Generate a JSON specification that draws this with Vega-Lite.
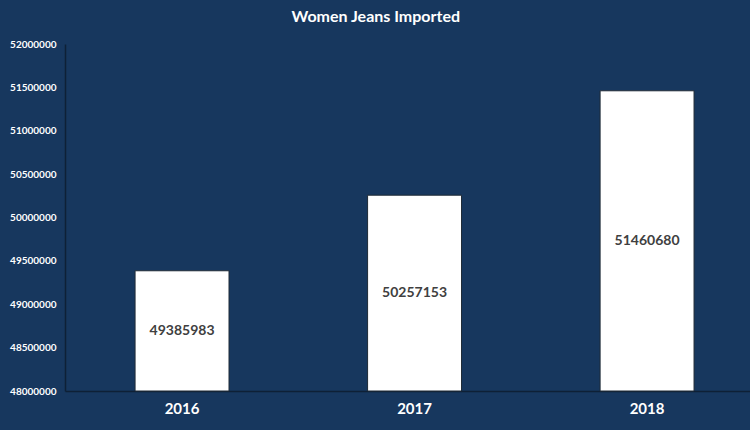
{
  "$schema": "https://vega.github.io/schema/vega-lite/v6.json",
  "autosize": {"type": "none"},
  "width": 685,
  "height": 347,
  "padding": {"left": 65, "top": 44, "right": 0, "bottom": 39},
  "background": "#17375E",
  "config": {
    "view": {"stroke": null},
    "font": "Lato",
    "title": {"color": "#FFFFFF", "fontSize": 16, "fontWeight": "bold", "font": "Lato", "anchor": "middle", "frame": "bounds"}
  },
  "title": {"text": "Women Jeans Imported", "offset": 14, "dx": -4},
  "data": {
    "values": [
      {"year": "2016", "value": 49385983},
      {"year": "2017", "value": 50257153},
      {"year": "2018", "value": 51460680}
    ]
  },
  "encoding": {
    "x": {
      "field": "year", "type": "nominal",
      "scale": {"paddingInner": 0.596, "paddingOuter": 0.271, "align": 0.556},
      "axis": {"title": null, "labelAngle": 0, "labelColor": "#FFFFFF", "labelFontSize": 15, "labelFontWeight": "bold", "labelFont": "Lato", "ticks": false, "labelPadding": 10, "domainColor": "#0E2036", "domainWidth": 1.5}
    }
  },
  "layer": [
    {
      "mark": {"type": "bar", "fill": "#FFFFFF", "stroke": "#1F2A36", "strokeWidth": 1},
      "encoding": {
        "y": {
          "field": "value", "type": "quantitative",
          "scale": {"domain": [48000000, 52000000], "zero": false, "nice": false},
          "axis": {"title": null, "values": [48000000, 48500000, 49000000, 49500000, 50000000, 50500000, 51000000, 51500000, 52000000], "format": "d", "labelColor": "#FFFFFF", "labelFontSize": 10, "labelFontWeight": "bold", "labelFont": "Lato", "ticks": false, "labelPadding": 9, "grid": false, "domainColor": "#0E2036", "domainWidth": 1.5}
        },
        "y2": {"datum": 48000000}
      }
    },
    {
      "transform": [{"calculate": "(datum.value + 48000000) / 2", "as": "mid"}],
      "mark": {"type": "text", "color": "#404040", "fontSize": 14, "fontWeight": "bold", "font": "Lato", "baseline": "middle"},
      "encoding": {
        "y": {"field": "mid", "type": "quantitative", "scale": {"domain": [48000000, 52000000], "zero": false, "nice": false}},
        "text": {"field": "value", "type": "quantitative", "format": "d"}
      }
    }
  ]
}
